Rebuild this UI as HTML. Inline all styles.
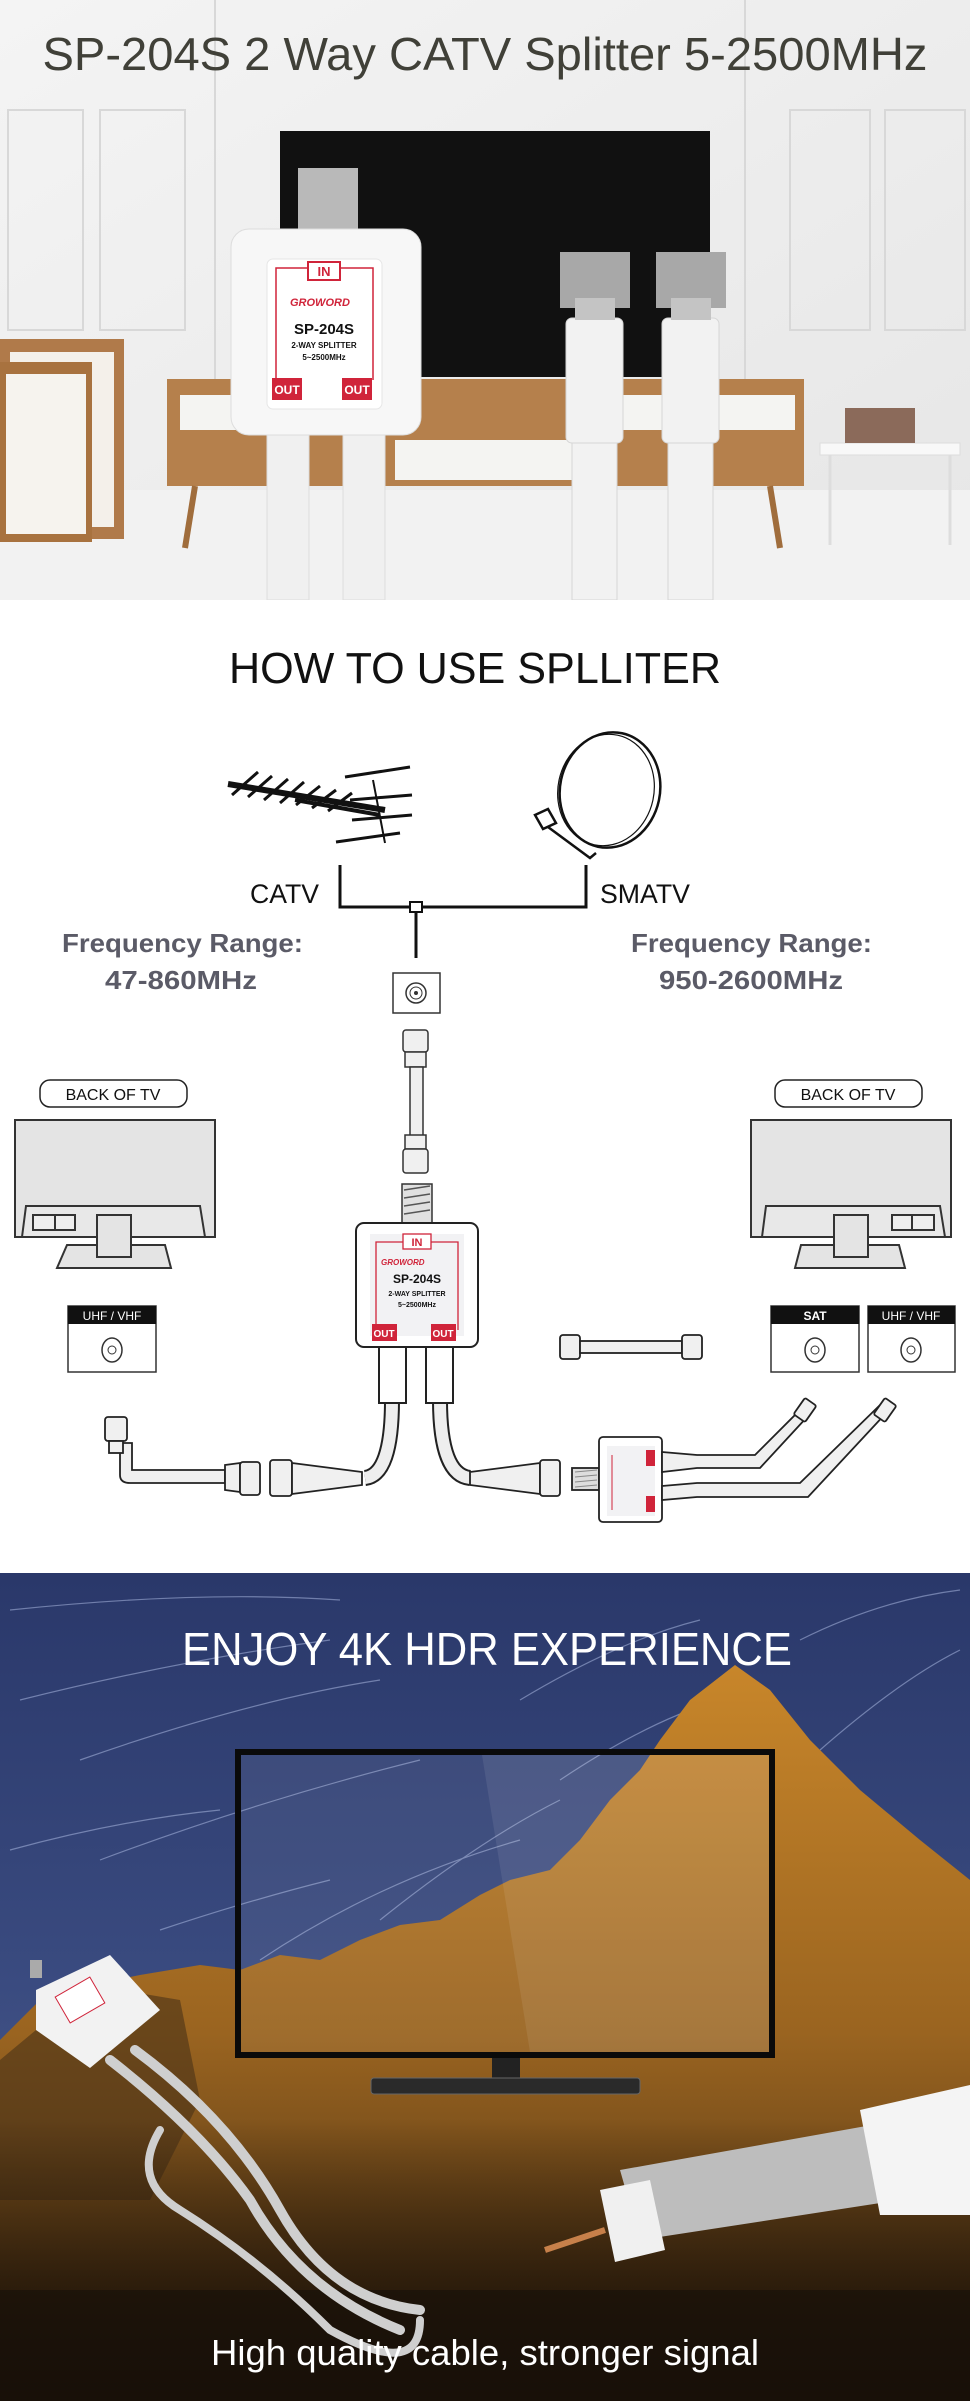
<!DOCTYPE html>
<html><head><meta charset="utf-8"><style>
html,body{margin:0;padding:0;background:#fff}
svg{display:block}
text{font-family:"Liberation Sans",sans-serif}
</style></head><body>
<svg width="970" height="2401" viewBox="0 0 970 2401" xmlns="http://www.w3.org/2000/svg">
<defs>
<linearGradient id="wall" x1="0" y1="0" x2="1" y2="1"><stop offset="0" stop-color="#f4f4f4"/><stop offset="1" stop-color="#e6e6e6"/></linearGradient>
<linearGradient id="sky" x1="0" y1="0" x2="0" y2="1"><stop offset="0" stop-color="#2a386a"/><stop offset="0.5" stop-color="#3a4b80"/><stop offset="1" stop-color="#5a6690"/></linearGradient>
<linearGradient id="rock" x1="0" y1="0" x2="0" y2="1"><stop offset="0" stop-color="#c8862a"/><stop offset="0.5" stop-color="#9a6420"/><stop offset="1" stop-color="#3a2612"/></linearGradient>
<linearGradient id="dark" x1="0" y1="0" x2="0" y2="1"><stop offset="0" stop-color="#000" stop-opacity="0"/><stop offset="1" stop-color="#140c06" stop-opacity="0.95"/></linearGradient>
</defs>

<!-- ===== TOP PHOTO ===== -->
<rect x="0" y="0" width="970" height="600" fill="url(#wall)"/>
<g fill="none" stroke="#d8d8d8" stroke-width="2">
<rect x="8" y="110" width="75" height="220"/><rect x="100" y="110" width="85" height="220"/>
<rect x="790" y="110" width="80" height="220"/><rect x="885" y="110" width="80" height="220"/>
<line x1="215" y1="0" x2="215" y2="380"/><line x1="745" y1="0" x2="745" y2="380"/>
</g>
<rect x="0" y="490" width="970" height="110" fill="#f2f2f2"/>
<rect x="0" y="339" width="124" height="200" fill="#b07a4a"/><rect x="10" y="352" width="104" height="175" fill="#f4f0ea"/>
<rect x="0" y="362" width="92" height="180" fill="#a8723f"/><rect x="6" y="374" width="80" height="160" fill="#f6f3ee"/>
<rect x="167" y="379" width="637" height="107" fill="#b5804c"/>
<rect x="180" y="395" width="210" height="35" fill="#f4f4f2"/><rect x="395" y="440" width="215" height="40" fill="#f4f4f2"/>
<rect x="610" y="395" width="185" height="35" fill="#f4f4f2"/>
<line x1="195" y1="486" x2="185" y2="548" stroke="#a06d3c" stroke-width="6"/><line x1="770" y1="486" x2="780" y2="548" stroke="#a06d3c" stroke-width="6"/>
<rect x="820" y="443" width="140" height="12" fill="#f8f8f8" stroke="#ddd"/>
<line x1="830" y1="455" x2="830" y2="545" stroke="#ddd" stroke-width="3"/><line x1="950" y1="455" x2="950" y2="545" stroke="#ddd" stroke-width="3"/>
<rect x="845" y="408" width="70" height="35" fill="#8b6a5a"/>
<rect x="280" y="131" width="430" height="246" fill="#111"/>
<rect x="298" y="168" width="60" height="62" fill="#b9b9b9"/>
<rect x="267" y="430" width="42" height="170" fill="#f0f0f0" stroke="#ddd"/><rect x="343" y="430" width="42" height="170" fill="#f0f0f0" stroke="#ddd"/>
<rect x="231" y="229" width="190" height="206" rx="18" fill="#f7f7f7" stroke="#ddd"/>
<rect x="267" y="259" width="115" height="150" rx="6" fill="#fff" stroke="#e6e6e6"/>
<path d="M276 380 L276 268 L308 268 M373 380 L373 268 L340 268" fill="none" stroke="#d0243a" stroke-width="1.5"/>
<rect x="308" y="262" width="32" height="18" fill="#fff" stroke="#d0243a" stroke-width="2"/>
<text x="324" y="276" font-size="13" font-weight="bold" fill="#d0243a" text-anchor="middle">IN</text>
<text x="290" y="306" font-size="11" font-weight="bold" font-style="italic" fill="#d0243a">GROWORD</text>
<text x="324" y="334" font-size="15" font-weight="bold" fill="#111" text-anchor="middle">SP-204S</text>
<text x="324" y="348" font-size="8" font-weight="bold" fill="#111" text-anchor="middle">2-WAY SPLITTER</text>
<text x="324" y="360" font-size="8" font-weight="bold" fill="#111" text-anchor="middle">5~2500MHz</text>
<rect x="272" y="378" width="30" height="22" fill="#d0243a"/><rect x="342" y="378" width="30" height="22" fill="#d0243a"/>
<text x="287" y="394" font-size="12" font-weight="bold" fill="#fff" text-anchor="middle">OUT</text>
<text x="357" y="394" font-size="12" font-weight="bold" fill="#fff" text-anchor="middle">OUT</text>
<g fill="#f2f2f2" stroke="#d6d6d6">
<rect x="572" y="440" width="45" height="160"/><rect x="668" y="440" width="45" height="160"/>
<rect x="566" y="318" width="57" height="125" rx="6"/><rect x="662" y="318" width="57" height="125" rx="6"/>
</g>
<rect x="560" y="252" width="70" height="56" fill="#a8a8a8"/><rect x="656" y="252" width="70" height="56" fill="#a8a8a8"/>
<rect x="575" y="298" width="40" height="22" fill="#c4c4c4"/><rect x="671" y="298" width="40" height="22" fill="#c4c4c4"/>
<text x="485" y="70" font-size="46" fill="#404038" text-anchor="middle" textLength="885" lengthAdjust="spacingAndGlyphs">SP-204S 2 Way CATV Splitter 5-2500MHz</text>

<!-- ===== DIAGRAM ===== -->
<rect x="0" y="600" width="970" height="973" fill="#fff"/>
<text x="475" y="683" font-size="44" fill="#111" text-anchor="middle" textLength="492" lengthAdjust="spacingAndGlyphs">HOW TO USE SPLLITER</text>
<g stroke="#111" stroke-width="3" fill="none">
<line x1="228" y1="784" x2="385" y2="810" stroke-width="6"/>
<line x1="295" y1="800" x2="380" y2="815" stroke-width="4"/>
<path d="M232 795 L258 772 M248 797 L272 776 M264 800 L288 779 M280 803 L304 782 M296 805 L320 786 M312 808 L336 790 M328 811 L352 793"/>
<path d="M345 777 L410 767 M350 800 L412 795 M352 820 L412 815 M336 842 L400 833"/>
<path d="M373 780 L385 843" stroke-width="2"/>
</g>
<g stroke="#111" stroke-width="2.5" fill="none">
<ellipse cx="610" cy="790" rx="50" ry="58" transform="rotate(12 610 790)"/>
<ellipse cx="606" cy="790" rx="48" ry="56" transform="rotate(12 606 790)" stroke-width="1.2"/>
<path d="M535 815 L548 809 L556 823 L543 829 Z"/>
<path d="M548 827 L590 858 L596 853"/>
</g>
<g stroke="#111" stroke-width="3" fill="none">
<polyline points="340,865 340,907 586,907 586,865"/>
<line x1="416" y1="910" x2="416" y2="958"/>
</g>
<rect x="410" y="902" width="12" height="10" fill="#fff" stroke="#111" stroke-width="2"/>
<text x="250" y="903" font-size="27" fill="#111" textLength="69" lengthAdjust="spacingAndGlyphs">CATV</text>
<text x="600" y="903" font-size="27" fill="#111" textLength="90" lengthAdjust="spacingAndGlyphs">SMATV</text>
<g fill="#5b5b67" font-weight="bold" font-size="26">
<text x="62" y="952" textLength="241" lengthAdjust="spacingAndGlyphs">Frequency Range:</text>
<text x="105" y="989" textLength="152" lengthAdjust="spacingAndGlyphs">47-860MHz</text>
<text x="631" y="952" textLength="241" lengthAdjust="spacingAndGlyphs">Frequency Range:</text>
<text x="659" y="989" textLength="184" lengthAdjust="spacingAndGlyphs">950-2600MHz</text>
</g>
<rect x="393" y="973" width="47" height="40" fill="#fff" stroke="#333" stroke-width="1.5"/>
<circle cx="416" cy="993" r="10" fill="none" stroke="#333" stroke-width="1.5"/><circle cx="416" cy="993" r="6" fill="none" stroke="#333"/><circle cx="416" cy="993" r="2" fill="#333"/>
<g stroke="#333" stroke-width="1.5" fill="#f0f0f0">
<rect x="403" y="1030" width="25" height="22" rx="3"/><rect x="405" y="1052" width="21" height="15"/>
<rect x="410" y="1067" width="13" height="70"/>
<rect x="405" y="1135" width="21" height="14"/><rect x="403" y="1149" width="25" height="24" rx="3"/>
<rect x="402" y="1184" width="30" height="39" fill="#e0e0e0"/>
</g>
<g stroke="#555" stroke-width="1.5"><path d="M404 1190 L430 1186 M404 1198 L430 1194 M404 1206 L430 1202 M404 1214 L430 1210"/></g>
<rect x="40" y="1080" width="147" height="27" rx="10" fill="#fff" stroke="#222" stroke-width="1.5"/>
<text x="113" y="1100" font-size="16" fill="#111" text-anchor="middle">BACK OF TV</text>
<rect x="775" y="1080" width="147" height="27" rx="10" fill="#fff" stroke="#222" stroke-width="1.5"/>
<text x="848" y="1100" font-size="16" fill="#111" text-anchor="middle">BACK OF TV</text>
<g stroke="#333" stroke-width="2" fill="#e4e4e4">
<rect x="15" y="1120" width="200" height="117"/>
<path d="M26 1206 L200 1206 L205 1237 L22 1237 Z" fill="#e8e8e8"/>
<rect x="33" y="1215" width="22" height="15" fill="#eee"/><rect x="55" y="1215" width="20" height="15" fill="#eee"/>
<path d="M67 1245 L165 1245 L171 1268 L57 1268 Z"/><rect x="97" y="1215" width="34" height="42"/>
<rect x="751" y="1120" width="200" height="117"/>
<path d="M766 1206 L940 1206 L945 1237 L762 1237 Z" fill="#e8e8e8"/>
<rect x="892" y="1215" width="20" height="15" fill="#eee"/><rect x="912" y="1215" width="22" height="15" fill="#eee"/>
<path d="M801 1245 L899 1245 L905 1268 L795 1268 Z"/><rect x="834" y="1215" width="34" height="42"/>
</g>
<g>
<rect x="68" y="1306" width="88" height="66" fill="#fff" stroke="#333" stroke-width="1.5"/><rect x="68" y="1306" width="88" height="18" fill="#111"/>
<text x="112" y="1320" font-size="12" fill="#fff" text-anchor="middle">UHF / VHF</text>
<ellipse cx="112" cy="1350" rx="10" ry="12" fill="none" stroke="#333" stroke-width="1.5"/><circle cx="112" cy="1350" r="4" fill="none" stroke="#333"/>
<rect x="771" y="1306" width="88" height="66" fill="#fff" stroke="#333" stroke-width="1.5"/><rect x="771" y="1306" width="88" height="18" fill="#111"/>
<text x="815" y="1320" font-size="12" fill="#fff" text-anchor="middle" font-weight="bold">SAT</text>
<ellipse cx="815" cy="1350" rx="10" ry="12" fill="none" stroke="#333" stroke-width="1.5"/><circle cx="815" cy="1350" r="4" fill="none" stroke="#333"/>
<rect x="868" y="1306" width="87" height="66" fill="#fff" stroke="#333" stroke-width="1.5"/><rect x="868" y="1306" width="87" height="18" fill="#111"/>
<text x="911" y="1320" font-size="12" fill="#fff" text-anchor="middle">UHF / VHF</text>
<ellipse cx="911" cy="1350" rx="10" ry="12" fill="none" stroke="#333" stroke-width="1.5"/><circle cx="911" cy="1350" r="4" fill="none" stroke="#333"/>
</g>
<g stroke="#222" stroke-width="2" fill="#fff">
<path d="M392 1400 Q392 1475 365 1478" fill="none" stroke-width="16" stroke="#222"/>
<path d="M392 1400 Q392 1475 365 1478" fill="none" stroke-width="12" stroke="#eee"/>
<path d="M440 1400 Q440 1475 470 1478" fill="none" stroke-width="16" stroke="#222"/>
<path d="M440 1400 Q440 1475 470 1478" fill="none" stroke-width="12" stroke="#eee"/>
<rect x="379" y="1347" width="27" height="56"/><rect x="426" y="1347" width="27" height="56"/>
<rect x="356" y="1223" width="122" height="124" rx="8"/>
</g>
<rect x="370" y="1234" width="94" height="102" fill="#f2f2f4"/>
<path d="M376 1330 L376 1242 L403 1242 M458 1330 L458 1242 L431 1242" fill="none" stroke="#d0243a" stroke-width="1.3"/>
<rect x="403" y="1234" width="28" height="15" fill="#fff" stroke="#d0243a" stroke-width="1.3"/>
<text x="417" y="1246" font-size="11" font-weight="bold" fill="#d0243a" text-anchor="middle">IN</text>
<text x="381" y="1265" font-size="8" font-weight="bold" font-style="italic" fill="#d0243a">GROWORD</text>
<text x="417" y="1283" font-size="12" font-weight="bold" fill="#111" text-anchor="middle">SP-204S</text>
<text x="417" y="1296" font-size="7" font-weight="bold" fill="#111" text-anchor="middle">2-WAY SPLITTER</text>
<text x="417" y="1307" font-size="7" font-weight="bold" fill="#111" text-anchor="middle">5~2500MHz</text>
<rect x="372" y="1324" width="25" height="17" fill="#d0243a"/><rect x="431" y="1324" width="25" height="17" fill="#d0243a"/>
<text x="384" y="1337" font-size="10" font-weight="bold" fill="#fff" text-anchor="middle">OUT</text>
<text x="443" y="1337" font-size="10" font-weight="bold" fill="#fff" text-anchor="middle">OUT</text>
<g stroke="#222" stroke-width="1.8" fill="#f0f0f0">
<path d="M120 1443 L120 1475 Q120 1483 130 1483 L225 1483 L225 1470 L132 1470 L132 1443 Z"/>
<rect x="105" y="1417" width="22" height="24" rx="3"/><rect x="109" y="1441" width="14" height="12"/>
<path d="M225 1465 L240 1463 L240 1492 L225 1490 Z"/><rect x="240" y="1462" width="20" height="33" rx="3"/>
<rect x="270" y="1460" width="22" height="36" rx="3"/><path d="M292 1463 L362 1472 L362 1485 L292 1494 Z"/>
<path d="M470 1472 L540 1463 L540 1494 L470 1485 Z"/><rect x="540" y="1460" width="20" height="36" rx="3"/>
<rect x="572" y="1468" width="27" height="22" fill="#ddd"/>
<rect x="599" y="1437" width="63" height="85" rx="4" fill="#fff"/>
<path d="M662 1452 L697 1455 L755 1455 L800 1410 L808 1416 L760 1468 L697 1468 L662 1472 Z"/>
<path d="M662 1486 L697 1483 L800 1483 L880 1405 L888 1411 L808 1497 L697 1497 L662 1500 Z"/>
<rect x="795" y="1403" width="20" height="14" rx="2" transform="rotate(-55 805 1410)"/>
<rect x="875" y="1403" width="20" height="14" rx="2" transform="rotate(-55 885 1410)"/>
<rect x="560" y="1335" width="20" height="24" rx="3"/><rect x="580" y="1341" width="102" height="12"/><rect x="682" y="1335" width="20" height="24" rx="3"/>
</g>
<rect x="607" y="1446" width="48" height="70" fill="#f2f2f4"/>
<rect x="646" y="1450" width="9" height="16" fill="#d0243a"/><rect x="646" y="1496" width="9" height="16" fill="#d0243a"/>
<path d="M612 1455 L612 1510" stroke="#d0243a" stroke-width="1"/>
<g stroke="#888" stroke-width="1"><path d="M575 1472 L597 1470 M575 1477 L597 1475 M575 1482 L597 1480 M575 1487 L597 1485"/></g>

<!-- ===== NIGHT PHOTO ===== -->
<rect x="0" y="1573" width="970" height="828" fill="url(#sky)"/>
<g stroke="#aab8e0" stroke-width="1.2" fill="none" opacity="0.55">
<path d="M10 1610 Q200 1590 340 1600"/><path d="M20 1700 Q180 1660 330 1640"/><path d="M80 1760 Q250 1700 380 1680"/>
<path d="M100 1860 Q260 1800 420 1760"/><path d="M10 1850 Q120 1820 220 1810"/><path d="M260 1960 Q380 1880 520 1840"/>
<path d="M520 1700 Q620 1640 700 1620"/><path d="M560 1780 Q650 1720 720 1700"/><path d="M800 1640 Q880 1600 960 1590"/>
<path d="M820 1750 Q900 1680 960 1650"/><path d="M380 1920 Q480 1840 560 1800"/><path d="M160 1930 Q250 1900 330 1880"/>
</g>
<path d="M690 1700 L735 1665 L770 1690 L810 1740 L860 1790 L920 1840 L970 1880 L970 2401 L0 2401 L0 2040 L40 2000 L90 1985 L140 1975 L200 1965 L240 1970 L280 1955 L320 1960 L360 1940 L400 1925 L440 1920 L480 1895 L510 1880 L550 1870 L580 1840 L610 1800 L640 1770 L660 1740 Z" fill="url(#rock)"/>
<path d="M0 2060 L60 2010 L120 1990 L180 2000 L200 2100 L150 2200 L0 2200 Z" fill="#4a3218" opacity="0.6"/>
<rect x="0" y="2120" width="970" height="281" fill="url(#dark)"/>
<rect x="0" y="2290" width="970" height="111" fill="#1a120a" opacity="0.75"/>
<rect x="238" y="1752" width="534" height="303" fill="#ffffff" fill-opacity="0.06" stroke="#0a0a0a" stroke-width="6"/>
<path d="M482 1755 L769 1755 L769 2052 L530 2052 Z" fill="#fff" opacity="0.08"/>
<rect x="492" y="2058" width="28" height="22" fill="#222"/>
<rect x="371" y="2078" width="269" height="16" rx="3" fill="#2a2a2a" stroke="#666"/>
<text x="487" y="1665" font-size="46" fill="#fff" text-anchor="middle" textLength="610" lengthAdjust="spacingAndGlyphs">ENJOY 4K HDR EXPERIENCE</text>
<g stroke="#cfcfcf" fill="none" stroke-linecap="round">
<path d="M110 2060 Q200 2130 250 2200 Q300 2290 400 2330" stroke-width="10"/>
<path d="M135 2050 Q230 2120 280 2210 Q330 2300 420 2310" stroke-width="10"/>
<path d="M160 2130 Q130 2180 180 2210 Q260 2260 330 2330 Q420 2380 420 2320" stroke-width="8"/>
</g>
<path d="M36 1990 L110 1955 L160 2010 L90 2068 L36 2030 Z" fill="#f2f2f2"/>
<rect x="30" y="1960" width="12" height="18" fill="#aaa"/>
<rect x="60" y="1985" width="40" height="30" fill="#fff" stroke="#d0243a" stroke-width="1" transform="rotate(-30 80 2000)"/>
<path d="M620 2170 L900 2120 L970 2100 L970 2200 L900 2200 L640 2240 Z" fill="#bdbdbd"/>
<path d="M860 2110 L970 2085 L970 2215 L880 2215 Z" fill="#f4f4f4"/>
<path d="M600 2190 L650 2180 L665 2250 L615 2262 Z" fill="#f0f0f0"/>
<line x1="545" y1="2250" x2="605" y2="2230" stroke="#c7804a" stroke-width="6"/>
<text x="485" y="2365" font-size="36" fill="#fff" text-anchor="middle" textLength="548" lengthAdjust="spacingAndGlyphs">High quality cable, stronger signal</text>
</svg>
</body></html>
